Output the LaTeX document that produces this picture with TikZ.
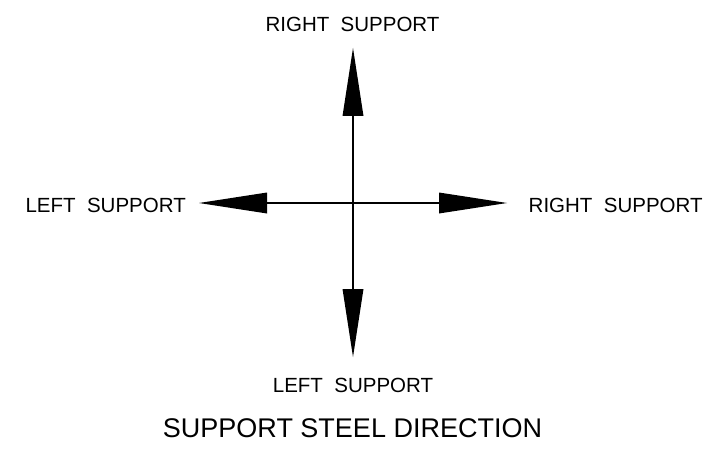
\documentclass[tikz,border=0pt]{standalone}
\usepackage{fontspec}
\setmainfont{Liberation Sans}
\usetikzlibrary{arrows.meta}
\begin{document}
\begin{tikzpicture}[x=1pt,y=1pt,
  lbl/.style={inner sep=0pt,font=\fontsize{20.5}{24}\selectfont},
  ttl/.style={inner sep=0pt,font=\fontsize{27}{32}\selectfont},
  dirarrow/.style={line width=1.1pt,-{Triangle[length=68pt,width=21pt,line width=0pt]}}]
\useasboundingbox (0,0) rectangle (716,451);
\coordinate (c) at (353,248);
\coordinate (tipT) at (353,403);
\coordinate (tipB) at (353,94);
\coordinate (tipL) at (199,248);
\coordinate (tipR) at (507,248);
\draw[dirarrow] (c) -- (tipT);
\draw[dirarrow] (c) -- (tipB);
\draw[dirarrow] (c) -- (tipL);
\draw[dirarrow] (c) -- (tipR);
\node[lbl,anchor=base] (lt) at (352.5,419) {RIGHT~~SUPPORT};
\node[lbl,anchor=base] (lb) at (353,59) {LEFT~~SUPPORT};
\node[lbl,anchor=base east] (ll) at (186,239) {LEFT~~SUPPORT};
\node[lbl,anchor=base west] (lr) at (528.5,239) {RIGHT~~SUPPORT};
\node[ttl,anchor=base] (title) at (352.5,14) {SUPPORT STEEL DIRECTION};
\end{tikzpicture}
\end{document}
